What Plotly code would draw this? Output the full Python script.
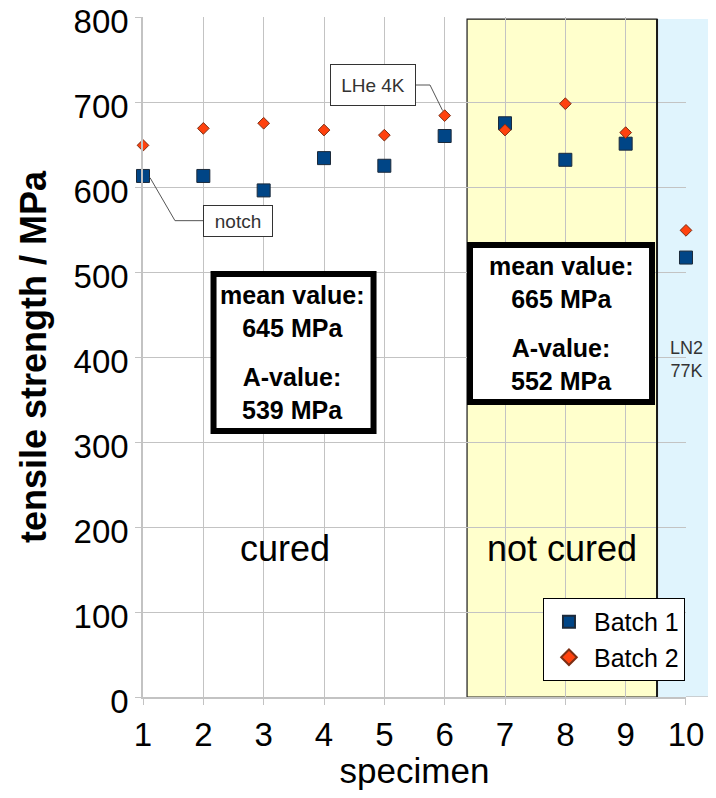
import plotly.graph_objects as go

# ---- data ----
specimen = [1, 2, 3, 4, 5, 6, 7, 8, 9, 10]
batch1 = [613, 613, 596, 634, 625, 660, 675, 632, 651, 517]
batch2 = [649, 669, 675, 667, 661, 684, 667, 698, 664, 549]
y_ticks = [0, 100, 200, 300, 400, 500, 600, 700, 800]
x_ticks = [1, 2, 3, 4, 5, 6, 7, 8, 9, 10]
series_names = ["Batch 1", "Batch 2"]
cured_stats = ["mean value:<br>645 MPa", "A-value:<br>539 MPa"]
notcured_stats = ["mean value:<br>665 MPa", "A-value:<br>552 MPa"]

FONT = "Liberation Sans, Arial, sans-serif"
GRID = "#c3c3c3"

fig = go.Figure()
fig.add_trace(go.Scatter(
    x=specimen, y=batch1, mode="markers", name=series_names[0],
    marker=dict(symbol="square", size=13, color="#004586",
                line=dict(color="#1c2a3a", width=1)),
    cliponaxis=False))
fig.add_trace(go.Scatter(
    x=specimen, y=batch2, mode="markers", name=series_names[1],
    marker=dict(symbol="diamond", size=9, color="#ff420e",
                line=dict(color="#7a2e14", width=1)),
    cliponaxis=False))

shapes = [
    # light blue LN2 region (extends beyond plot area)
    dict(type="rect", xref="paper", yref="y", x0=0.9466, x1=1.08, y0=0, y1=797.6,
         fillcolor="#e0f4fd", line=dict(width=0), layer="below"),
    # yellow "not cured" region
    dict(type="rect", xref="x", yref="y", x0=6.371, x1=9.52, y0=0, y1=797.6,
         fillcolor="#ffffcc", line=dict(color="#1a1a1a", width=1.2), layer="below"),
    dict(type="line", xref="x", yref="y", x0=9.52, x1=9.52, y0=0, y1=797.6,
         line=dict(color="#1a1a1a", width=2)),
    # baseline extension
    dict(type="line", xref="paper", yref="y", x0=1.0, x1=1.08, y0=0, y1=0,
         line=dict(color=GRID, width=1.5)),
    # statistic boxes
    dict(type="rect", xref="x", yref="y", x0=2.169, x1=4.821, y0=312.9, y1=497.6,
         fillcolor="white", line=dict(color="black", width=6)),
    dict(type="rect", xref="x", yref="y", x0=6.42, x1=9.437, y0=347, y1=531.8,
         fillcolor="white", line=dict(color="black", width=6)),
    # connectors for labels
    dict(type="path", xref="x", yref="y",
         path="M 5.525 720 L 5.757 720 L 5.965 690",
         line=dict(color="#555555", width=1)),
    dict(type="path", xref="x", yref="y",
         path="M 1.116 611 L 1.53 560.4 L 1.995 560.4",
         line=dict(color="#555555", width=1)),
]

annotations = [
    dict(x=4.812, y=720, xref="x", yref="y", text="LHe 4K", showarrow=False,
         font=dict(family=FONT, size=19, color="#333333"),
         bgcolor="white", bordercolor="#333333", borderwidth=1, borderpad=0,
         width=84, height=40),
    dict(x=2.575, y=560.4, xref="x", yref="y", text="notch", showarrow=False,
         font=dict(family=FONT, size=19, color="#333333"),
         bgcolor="white", bordercolor="#333333", borderwidth=1, borderpad=0,
         width=68, height=30),
    dict(x=1.0018, y=397.6, xref="paper", yref="y", text="LN2<br>77K", showarrow=False,
         xanchor="center", yanchor="middle",
         font=dict(family=FONT, size=18, color="#333333")),
    dict(x=3.354, y=175.3, xref="x", yref="y", text="cured", showarrow=False,
         font=dict(family=FONT, size=36, color="black")),
    dict(x=7.945, y=175.3, xref="x", yref="y", text="not cured", showarrow=False,
         font=dict(family=FONT, size=36, color="black")),
    dict(x=3.486, y=454.1, xref="x", yref="y", text="<b>%s</b>" % cured_stats[0],
         showarrow=False, font=dict(family=FONT, size=25, color="black")),
    dict(x=3.486, y=357, xref="x", yref="y", text="<b>%s</b>" % cured_stats[1],
         showarrow=False, font=dict(family=FONT, size=25, color="black")),
    dict(x=7.929, y=487.9, xref="x", yref="y", text="<b>%s</b>" % notcured_stats[0],
         showarrow=False, font=dict(family=FONT, size=25, color="black")),
    dict(x=7.929, y=391.5, xref="x", yref="y", text="<b>%s</b>" % notcured_stats[1],
         showarrow=False, font=dict(family=FONT, size=25, color="black")),
]

# the page body has an 8px margin, so the figure is offset by 8px
fig.update_layout(
    width=716, height=782,
    margin=dict(l=135, r=38, t=9, b=93, pad=0, autoexpand=False),
    paper_bgcolor="white", plot_bgcolor="rgba(0,0,0,0)",
    font=dict(family=FONT, color="black"),
    shapes=shapes, annotations=annotations,
    showlegend=True,
    legend=dict(x=0.7366, y=0.1456, xanchor="left", yanchor="top",
                bgcolor="white", bordercolor="black", borderwidth=1,
                font=dict(family=FONT, size=25, color="black"),
                itemsizing="constant", itemwidth=40, entrywidth=106),
)
fig.update_xaxes(
    range=[1, 10.0001], tickvals=x_ticks, ticktext=[str(v) for v in x_ticks],
    showgrid=True, gridcolor=GRID, gridwidth=1, zeroline=False,
    showline=True, linecolor=GRID, linewidth=1.5,
    ticks="outside", ticklen=6, tickcolor=GRID, automargin=False,
    ticklabeloverflow="allow", ticklabelstandoff=2,
    tickfont=dict(family=FONT, size=33, color="black"),
    title=dict(text="specimen", font=dict(family=FONT, size=35, color="black"), standoff=14),
)
fig.update_yaxes(
    range=[0, 800.01], tickvals=y_ticks, ticktext=[str(v) for v in y_ticks],
    showgrid=True, gridcolor=GRID, gridwidth=1, zeroline=False,
    showline=True, linecolor=GRID, linewidth=1.5,
    ticks="outside", ticklen=6, tickcolor=GRID, automargin=False,
    ticklabeloverflow="allow", ticklabelshift=4,
    tickfont=dict(family=FONT, size=33, color="black"),
    title=dict(text="<b>tensile strength / MPa</b>",
               font=dict(family=FONT, size=36, color="black"), standoff=16),
)

fig.write_html("out.html")
